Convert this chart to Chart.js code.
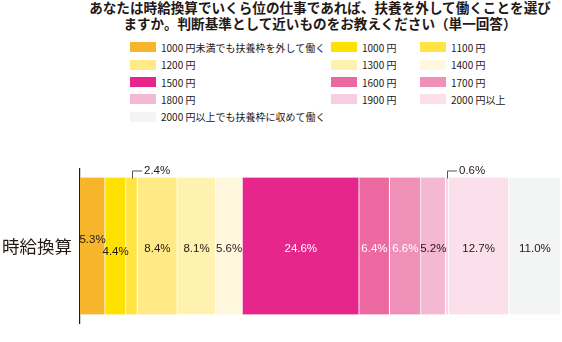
<!DOCTYPE html>
<html lang="ja">
<head>
<meta charset="utf-8">
<script src="https://cdn.jsdelivr.net/npm/chart.js@4/dist/chart.umd.min.js"></script>
<style>
  body { margin: 0; background: #fff; }
  #wrap { position: relative; width: 562px; height: 342px; overflow: hidden;
          font-family: "Noto Sans CJK JP", "Noto Sans", sans-serif; color: #231815; }
  #title { position: absolute; top: -1px; left: 0; width: 640px; text-align: center;
           font-size: 13.6px; font-weight: bold; line-height: 16px; letter-spacing: 0; }
  #legend { position: absolute; top: 38px; left: 0; width: 562px; height: 90px; }
  .item { position: absolute; display: flex; align-items: center; font-size: 10px; white-space: nowrap; }
  .box { width: 26px; height: 10px; margin-right: 5px; }
  #chart { position: absolute; left: 0; top: 150px; }
</style>
</head>
<body>
<div id="wrap">
  <div id="title">あなたは時給換算でいくら位の仕事であれば、扶養を外して働くことを選び<br>ますか。判断基準として近いものをお教えください（単一回答）</div>
  <div id="legend"></div>
  <canvas id="chart" width="562" height="192"></canvas>
</div>
<script>
// 時給換算の回答分布（%）
const categories = ['時給換算'];
const seriesLabels = [
  '1000 円未満でも扶養枠を外して働く', '1000 円', '1100 円',
  '1200 円', '1300 円', '1400 円',
  '1500 円', '1600 円', '1700 円',
  '1800 円', '1900 円', '2000 円以上',
  '2000 円以上でも扶養枠に収めて働く'
];
const values = [5.3, 4.4, 2.4, 8.4, 8.1, 5.6, 24.6, 6.4, 6.6, 5.2, 0.6, 12.7, 11.0];

const colors = [
  '#f7b52c', '#ffe100', '#ffe443',
  '#ffea86', '#fff2b1', '#fff8de',
  '#e6268a', '#eb68a0', '#ef90b9',
  '#f4b8d3', '#f8cfe1', '#fbdfea',
  '#f3f5f4'
];
const textColors = colors.map((c, i) => (i >= 6 && i <= 8) ? '#ffffff' : '#231815');

// 凡例（3列レイアウト）
const legendCols = [130, 331, 420];
const legendRows = [9, 26.5, 44, 61, 78.5];
const legend = document.getElementById('legend');
seriesLabels.forEach((label, i) => {
  const item = document.createElement('div');
  item.className = 'item';
  item.style.left = legendCols[i % 3] + 'px';
  item.style.top = (legendRows[Math.floor(i / 3)] - 7) + 'px';
  item.style.height = '14px';
  item.innerHTML = '<span class="box" style="background:' + colors[i] + '"></span>' + label;
  legend.appendChild(item);
});

const total = values.reduce((a, b) => a + b, 0);

// 帯の中に値ラベル、細い帯は引き出し線付きで上に表示
const valueLabels = {
  id: 'valueLabels',
  afterDatasetsDraw(chart, args, opts) {
    const ctx = chart.ctx;
    ctx.save();
    ctx.font = '11.5px "Liberation Sans", "Noto Sans", sans-serif';
    ctx.textBaseline = 'middle';
    chart.data.datasets.forEach((ds, i) => {
      const el = chart.getDatasetMeta(i).data[0];
      const v = ds.data[0];
      const text = v.toFixed(1) + '%';
      const cx = (el.x + el.base) / 2;
      if (v < 3) {
        const top = el.y - el.height / 2;
        const ly = top - 7;
        ctx.strokeStyle = '#555';
        ctx.lineWidth = 1;
        ctx.beginPath();
        ctx.moveTo(Math.round(cx) + 0.5, top + 1);
        ctx.lineTo(Math.round(cx) + 0.5, ly + 0.5);
        ctx.lineTo(Math.round(cx) + 10, ly + 0.5);
        ctx.stroke();
        ctx.fillStyle = '#231815';
        ctx.textAlign = 'left';
        ctx.fillText(text, Math.round(cx) + 12, ly);
      } else {
        const dy = (opts.nudge && opts.nudge[i]) || 0;
        ctx.fillStyle = textColors[i];
        ctx.textAlign = 'center';
        ctx.fillText(text, cx, el.y + 2.5 + dy);
      }
    });
    ctx.restore();
  }
};

new Chart(document.getElementById('chart'), {
  type: 'bar',
  data: {
    labels: categories,
    datasets: seriesLabels.map((label, i) => ({
      label: label,
      data: [values[i]],
      backgroundColor: colors[i],
      borderColor: '#ffffff',
      borderWidth: { left: 0, right: 1, top: 0, bottom: 0 },
      borderSkipped: false,
      barThickness: 137
    }))
  },
  options: {
    indexAxis: 'y',
    responsive: false,
    animation: false,
    layout: { padding: { left: 0, right: 1, top: 0, bottom: 0 } },
    scales: {
      x: { stacked: true, display: false, min: 0, max: total },
      y: {
        stacked: true,
        z: 1,
        grid: { display: false, drawTicks: false, tickLength: 0 },
        border: { display: true, color: '#231815', width: 1.2 },
        ticks: {
          color: '#231815',
          padding: 8,
          font: { family: '"Noto Sans CJK JP", sans-serif', size: 17.5 }
        },
        afterFit(scale) { scale.width = 80; }
      }
    },
    plugins: {
      legend: { display: false },
      tooltip: { enabled: false },
      valueLabels: { nudge: { 0: -8.5, 1: 3 } }
    }
  },
  plugins: [valueLabels]
});
</script>
</body>
</html>
